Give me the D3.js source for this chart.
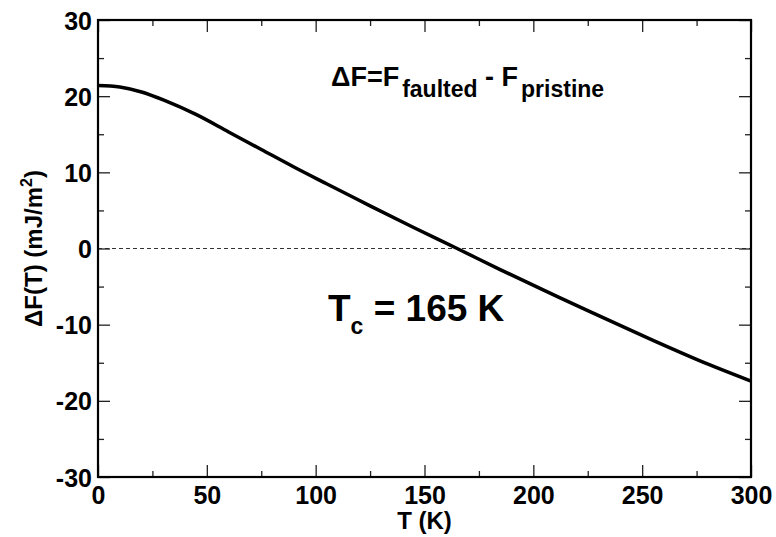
<!DOCTYPE html>
<html><head><meta charset="utf-8">
<script src="https://cdn.jsdelivr.net/npm/d3@7"></script>
<style>body{margin:0;background:#fff}svg{display:block}text{font-family:"Liberation Sans",Arial,sans-serif;font-weight:bold}</style>
</head><body><svg id="c" width="776" height="537"></svg>
<script>
const temps = [0,10,20,30,45,60,75,90,105,125,145,165,185,205,225,255,280,300];
const dF = [21.4,21.2,20.55,19.5,17.6,15.3,13.0,10.7,8.5,5.6,2.75,0,-2.8,-5.5,-8.15,-12.05,-15.15,-17.4];
const xMajor = [0,50,100,150,200,250,300];
const yMajor = [-30,-20,-10,0,10,20,30];
const xMinor = [25,75,125,175,225,275];
const yMinor = [-25,-15,-5,5,15,25];

const svg = d3.select("#c");
const L=98,R=751,T=20,B=477;
const x = d3.scaleLinear().domain([0,300]).range([L,R]);
const y = d3.scaleLinear().domain([-30,30]).range([B,T]);
const fmt = v => String(v);

// dashed zero line
svg.append("line").attr("x1",L).attr("x2",R).attr("y1",y(0)).attr("y2",y(0))
  .attr("stroke","#333").attr("stroke-width",1).attr("stroke-dasharray","4,3");

// curve
svg.append("path").datum(temps.map((t,i)=>[t,dF[i]]))
  .attr("d",d3.line().x(d=>x(d[0])).y(d=>y(d[1])).curve(d3.curveCatmullRom))
  .attr("fill","none").attr("stroke","#000").attr("stroke-width",3.5);

// axes (ticks inside)
function ax(gen, tr, vals, len, labels){
  const g = svg.append("g").attr("transform",tr).call(gen.tickValues(vals).tickSizeInner(len).tickSizeOuter(0).tickFormat(labels?fmt:""));
  g.select(".domain").remove();
  g.attr("font-size",25).attr("font-family","Liberation Sans, Arial, sans-serif").attr("font-weight","bold");
  g.selectAll(".tick line").attr("stroke","#222").attr("stroke-width",1.3);
  return g;
}
ax(d3.axisBottom(x), `translate(0,${B})`, xMinor, -6, false);
ax(d3.axisTop(x), `translate(0,${T})`, xMinor, -6, false);
ax(d3.axisTop(x), `translate(0,${T})`, xMajor, -12, false);
ax(d3.axisLeft(y), `translate(${L},0)`, yMinor, -6, false);
ax(d3.axisRight(y), `translate(${R},0)`, yMinor, -6, false);
ax(d3.axisRight(y), `translate(${R},0)`, yMajor, -12, false);
const gx = ax(d3.axisBottom(x), `translate(0,${B})`, xMajor, -12, true);
gx.selectAll(".tick text").attr("y",27).attr("dy","0").attr("fill","#000");
const gy = ax(d3.axisLeft(y), `translate(${L},0)`, yMajor, -12, true);
gy.selectAll(".tick text").attr("x",-6).attr("dy","0.36em").attr("fill","#000");

// frame
svg.append("rect").attr("x",L).attr("y",T).attr("width",R-L).attr("height",B-T)
  .attr("fill","none").attr("stroke","#000").attr("stroke-width",2.2);

// axis titles
svg.append("text").attr("x",(L+R)/2).attr("y",529).attr("text-anchor","middle").attr("font-size",24).text("T (K)");
const yt = svg.append("text").attr("transform",`translate(42,${(T+B)/2}) rotate(-90)`).attr("text-anchor","middle").attr("font-size",24);
yt.append("tspan").text("\u0394F(T) (mJ/m");
yt.append("tspan").attr("font-size",16).attr("dy",-10).text("2");
yt.append("tspan").attr("dy",10).text(")");

// annotation 1
const a1 = svg.append("text").attr("x",331).attr("y",86).attr("font-size",27);
a1.append("tspan").text("\u0394F=F");
a1.append("tspan").attr("font-size",23).attr("dy",11).attr("dx",3).text("faulted");
a1.append("tspan").attr("dy",-11).text(" - F");
a1.append("tspan").attr("font-size",23).attr("dy",11).attr("dx",3).text("pristine");

// annotation 2
const a2 = svg.append("text").attr("x",328).attr("y",321).attr("font-size",37);
a2.append("tspan").text("T");
a2.append("tspan").attr("font-size",23).attr("dy",13).text("c");
a2.append("tspan").attr("dy",-13).text(" = 165 K");
</script></body></html>
